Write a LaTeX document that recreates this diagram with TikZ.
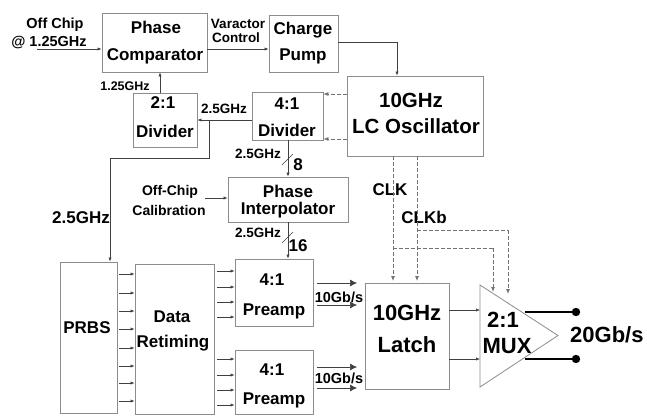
\documentclass[tikz,border=0pt]{standalone}
\usepackage{fontspec}
\setmainfont{Liberation Sans}
\usetikzlibrary{arrows.meta}
\begin{document}
\begin{tikzpicture}[x=1pt,y=-1pt,
  box/.style={draw=black!45, line width=0.8pt, inner sep=0pt},
  tbig/.style={font=\bfseries\fontsize{22}{22}\selectfont, inner sep=0pt, anchor=base},
  tmid/.style={font=\bfseries\fontsize{17}{17}\selectfont, inner sep=0pt, anchor=base},
  tsml/.style={font=\bfseries\fontsize{13.5}{13.5}\selectfont, inner sep=0pt, anchor=base},
  tlc/.style={font=\bfseries\fontsize{20.5}{20.5}\selectfont, inner sep=0pt, anchor=base},
  wire/.style={draw=black!75, line width=0.6pt},
  arr/.style={wire, -{Latex[length=4pt,width=3.2pt]}},
  barr/.style={wire, -{Latex[length=7pt,width=7pt]}},
  dsh/.style={draw=black!55, line width=0.8pt, dash pattern=on 3.5pt off 2.5pt, -{Latex[length=5pt,width=4pt]}},
  dshl/.style={draw=black!55, line width=0.8pt, dash pattern=on 3.5pt off 2.5pt},
  outw/.style={draw=black, line width=1.4pt},
]
\useasboundingbox (0,0) rectangle (647,416);
\fill[white] (0,0) rectangle (647,416);

% ---------- boxes ----------
\node[box, minimum width=105pt, minimum height=59pt] (pc) at (154.5,42.5) {};
\node[box, minimum width=69pt, minimum height=57pt] (cp) at (303.5,43.5) {};
\node[box, minimum width=136pt, minimum height=80pt] (lc) at (415,116) {};
\node[box, minimum width=71pt, minimum height=48pt] (d4) at (287.5,116) {};
\node[box, minimum width=64pt, minimum height=54pt] (d2) at (165,120) {};
\node[box, minimum width=120pt, minimum height=45pt] (pi) at (288,199.5) {};
\node[box, minimum width=57pt, minimum height=151pt] (prbs) at (88.5,337.5) {};
\node[box, minimum width=79pt, minimum height=150pt] (dr) at (174.5,339) {};
\node[box, minimum width=78pt, minimum height=67pt] (pa1) at (274,292.5) {};
\node[box, minimum width=78pt, minimum height=64pt] (pa2) at (274,382) {};
\node[box, minimum width=84pt, minimum height=106pt] (lat) at (407,336) {};
\coordinate (muxa) at (480,285);
\coordinate (muxb) at (558,335.5);
\coordinate (muxc) at (480,387);
\draw[draw=black!45, line width=0.8pt] (muxa) -- (muxb) -- (muxc) -- cycle;

% ---------- box texts ----------
\node[tmid] (pct1) at (156,33) {Phase};
\node[tmid] (pct2) at (155,60) {Comparator};
\node[tmid] (cpt1) at (303,34) {Charge};
\node[tmid] (cpt2) at (303,60) {Pump};
\node[tlc] (lct1) at (411,107) {10GHz};
\node[tlc] (lct2) at (416,133) {LC Oscillator};
\node[tmid] (d4t1) at (287,109) {4:1};
\node[tmid] (d4t2) at (287,136) {Divider};
\node[tmid] (d2t1) at (163,108) {2:1};
\node[tmid] (d2t2) at (165,137) {Divider};
\node[tmid] (pit1) at (288,197) {Phase};
\node[tmid] (pit2) at (288,214) {Interpolator};
\node[tmid] (prt) at (87,333) {PRBS};
\node[tmid] (drt1) at (172,322) {Data};
\node[tmid] (drt2) at (173,347) {Retiming};
\node[tmid] (p1t1) at (272,285) {4:1};
\node[tmid] (p1t2) at (274,315) {Preamp};
\node[tmid] (p2t1) at (272,375) {4:1};
\node[tmid] (p2t2) at (274,404) {Preamp};
\node[tbig] (lat1) at (407,320) {10GHz};
\node[tbig] (lat2) at (407,352) {Latch};
\node[tbig] (mxt1) at (503,327) {2:1};
\node[tbig] (mxt2) at (507,353) {MUX};
\node[tbig, anchor=base west] (out) at (570,342) {20Gb/s};

% ---------- labels ----------
\node[font=\bfseries\fontsize{14.5}{14.5}\selectfont, inner sep=0pt, anchor=base] (offc) at (55,28) {Off Chip};
\node[font=\bfseries\fontsize{14.5}{14.5}\selectfont, inner sep=0pt, anchor=base] (off125) at (49,46) {@ 1.25GHz};
\node[tsml] (var1) at (238,28) {Varactor};
\node[tsml] (var2) at (236,42) {Control};
\node[font=\bfseries\fontsize{12.5}{12.5}\selectfont, inner sep=0pt, anchor=base] (l125) at (125,90) {1.25GHz};
\node[tsml] (l25a) at (224,113) {2.5GHz};
\node[tsml] (l25b) at (258,158) {2.5GHz};
\node[tsml] (l25c) at (258,237) {2.5GHz};
\node[tmid] (n8) at (298,170) {8};
\node[tmid] (n16) at (298,251) {16};
\node[font=\bfseries\fontsize{14}{14}\selectfont, inner sep=0pt, anchor=base] (cal1) at (170,195) {Off-Chip};
\node[font=\bfseries\fontsize{14}{14}\selectfont, inner sep=0pt, anchor=base] (cal2) at (169,215) {Calibration};
\node[tmid] (l25d) at (81,223) {2.5GHz};
\node[tmid] (clk) at (390,195) {CLK};
\node[tmid] (clkb) at (424,223) {CLKb};
\node[font=\bfseries\fontsize{14.5}{14.5}\selectfont, inner sep=0pt, anchor=base] (g1) at (339,302) {10Gb/s};
\node[font=\bfseries\fontsize{14.5}{14.5}\selectfont, inner sep=0pt, anchor=base] (g2) at (339,383) {10Gb/s};

% ---------- connectors ----------
\coordinate (offs) at (37,49);
\draw[arr] (offs) -- (offs -| pc.west);
\draw[arr] (pc.east |- 0,49) -- (cp.west |- 0,49);
\draw[arr] (cp.east |- 0,42) -| (397,0 |- lc.north);
\draw[arr] (d2.north -| 160,0) -- (pc.south -| 160,0);
\draw[arr] (d4.west |- 0,120) -- (d2.east |- 0,120);
\coordinate (j25) at (209,120);
\draw[arr] (j25) -- (209,158) -- (110,158) -- (110,0 |- prbs.north);
\draw[arr] (d4.south -| 288,0) -- (pi.north -| 288,0);
\draw[wire] (282,165) -- (293,154);
\draw[arr] (pi.south -| 288,0) -- (pa1.north -| 288,0);
\draw[wire] (282,243) -- (293,232);
\coordinate (cals) at (205,198);
\draw[arr] (cals) -- (cals -| pi.west);
% LC to 4:1 divider dashed
\draw[dsh] (lc.west |- 0,94) -- (d4.east |- 0,94);
\draw[dsh] (lc.west |- 0,139) -- (d4.east |- 0,139);
% PRBS -> data retiming
\foreach \yy in {274,293,311,329,348,366,383,401}
  \draw[arr] (119,\yy) -- (dr.west |- 0,\yy);
% data retiming -> preamps
\foreach \yy in {271,287,302,317}
  \draw[arr] (217,\yy) -- (pa1.west |- 0,\yy);
\foreach \yy in {359,375,390,405}
  \draw[arr] (217,\yy) -- (pa2.west |- 0,\yy);
% preamps -> latch
\foreach \yy in {283,305}
  \draw[barr] (pa1.east |- 0,\yy) ++(4,0) -- (357,\yy);
\foreach \yy in {367,388}
  \draw[barr] (pa2.east |- 0,\yy) ++(4,0) -- (357,\yy);
% CLK dashed
\draw[dsh] (lc.south -| 393,0) -- (393,281);
\draw[dsh] (lc.south -| 417,0) -- (417,281);
\draw[dshl] (393,248) -- (493,248);
\draw[dsh] (493,248) -- (493,292);
\draw[dshl] (417,230) -- (508,230);
\draw[dsh] (508,230) -- (508,294);
% latch -> mux
\draw[arr] (lat.east |- 0,310) -- (480,310);
\draw[arr] (lat.east |- 0,359) -- (480,359);
% outputs
\coordinate (o1) at (576,312);
\coordinate (o2) at (576,359);
\draw[outw] (525,312) -- (o1);
\draw[outw] (525,359) -- (o2);
\fill (o1) circle (4.2pt);
\fill (o2) circle (4.2pt);
\end{tikzpicture}
\end{document}
